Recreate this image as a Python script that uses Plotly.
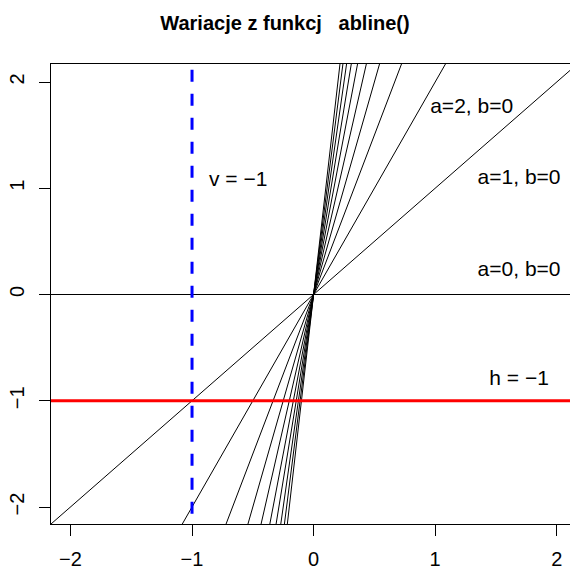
import plotly.graph_objects as go

# abline(a=intercept, b=slope) variations
intercepts = [0, 0, 0, 0, 0, 0, 0, 0, 0, 0, 0]
slopes = [0, 1, 2, 3, 4, 5, 6, 7, 8, 9, 10]
h_value = -1
v_value = -1

label_texts = ["a=2, b=0", "a=1, b=0", "a=0, b=0", "h = \u22121", "v = \u22121"]
label_x = [1.30, 1.69, 1.69, 1.69, -0.62]
label_y = [1.76, 1.09, 0.22, -0.80, 1.07]

x_ticks = [-2, -1, 0, 1, 2]
y_ticks = [-2, -1, 0, 1, 2]
tick_text = ["\u22122", "\u22121", "0", "1", "2"]

title = "Wariacje z funkcj   abline()"

span = [-5, 5]
fig = go.Figure()
for a, b in zip(intercepts, slopes):
    fig.add_trace(go.Scatter(x=span, y=[a + b * span[0], a + b * span[1]],
                             mode="lines", line=dict(color="black", width=1),
                             showlegend=False, hoverinfo="skip"))
fig.add_trace(go.Scatter(x=span, y=[h_value, h_value], mode="lines",
                         line=dict(color="#ff0000", width=3),
                         showlegend=False, hoverinfo="skip"))
fig.add_trace(go.Scatter(x=[v_value, v_value], y=span, mode="lines",
                         line=dict(color="#0000ff", width=3, dash="12px,12px"),
                         showlegend=False, hoverinfo="skip"))
fig.add_trace(go.Scatter(x=label_x, y=label_y, mode="text", text=label_texts,
                         textfont=dict(family="Liberation Sans, Arial", size=21, color="black"),
                         showlegend=False, hoverinfo="skip"))

fig.update_layout(
    width=570, height=569,
    margin=dict(l=51, r=0, t=64, b=45),
    paper_bgcolor="white", plot_bgcolor="white",
    font=dict(family="Liberation Sans, Arial", color="black"),
    title=dict(text="<b>" + title + "</b>", x=285 / 570, xanchor="center", xref="container",
               y=1 - 23 / 569, yanchor="middle", yref="container",
               font=dict(size=20, family="Liberation Sans, Arial")),
)
fig.update_xaxes(range=[-2.16, 2.109], showgrid=False, zeroline=False,
                 showline=True, linecolor="black", linewidth=1, mirror=True,
                 tickmode="array", tickvals=x_ticks, ticktext=tick_text,
                 ticks="outside", ticklen=11, tickcolor="black", tickwidth=1,
                 ticklabelstandoff=6, tickfont=dict(size=20))
fig.update_yaxes(range=[-2.16, 2.1694], showgrid=False, zeroline=False,
                 showline=True, linecolor="black", linewidth=1, mirror=False,
                 tickmode="array", tickvals=y_ticks, ticktext=tick_text,
                 ticks="outside", ticklen=11, tickcolor="black", tickwidth=1,
                 ticklabelstandoff=7, tickangle=-90, tickfont=dict(size=20))

fig.write_html("out.html", config={"displayModeBar": False},
               post_script="document.body.style.margin='0';document.body.style.overflow='hidden';")
